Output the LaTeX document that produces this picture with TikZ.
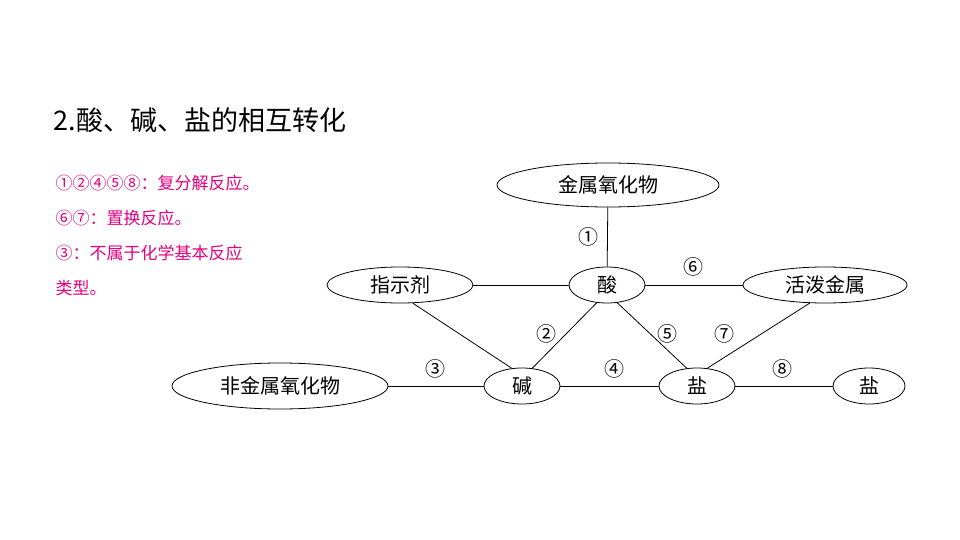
\documentclass[tikz,border=0pt]{standalone}
\usepackage{fontspec}
\setmainfont{Noto Sans CJK SC}
\usetikzlibrary{shapes.geometric}
\definecolor{note}{RGB}{228,0,127}
\tikzset{
  sub/.style={draw, thick, ellipse, inner sep=0pt, minimum height=36pt, font=\fontsize{20}{24}\selectfont},
  num/.style={font=\fontsize{20}{24}\selectfont, inner sep=0pt},
  link/.style={thick}
}
\begin{document}
\begin{tikzpicture}[x=1pt, y=-1pt]
    \useasboundingbox (0,0) rectangle (960,540);

    % Title
    \node[anchor=west, font=\fontsize{27}{32}\selectfont] (title) at (50,120) {2.酸、碱、盐的相互转化};

    % Notes
    \node[anchor=west, note, font=\fontsize{17}{20}\selectfont] (n1) at (52,183) {①②④⑤⑧：复分解反应。};
    \node[anchor=west, note, font=\fontsize{17}{20}\selectfont] (n2) at (52,218) {⑥⑦：置换反应。};
    \node[anchor=west, note, font=\fontsize{17}{20}\selectfont] (n3) at (52,253) {③：不属于化学基本反应};
    \node[anchor=west, note, font=\fontsize{17}{20}\selectfont] (n4) at (52,288) {类型。};

    % Substances
    \node[sub, minimum width=222pt, minimum height=44pt] (mo) at (608,185) {金属氧化物};
    \node[sub, minimum width=146pt] (ind) at (400,285) {指示剂};
    \node[sub, minimum width=76pt] (acid) at (607,285) {酸};
    \node[sub, minimum width=164pt] (met) at (825,285) {活泼金属};
    \node[sub, minimum width=216pt, minimum height=46pt] (nmo) at (280,386) {非金属氧化物};
    \node[sub, minimum width=76pt] (base) at (522,386) {碱};
    \node[sub, minimum width=76pt] (salt) at (697,386) {盐};
    \node[sub, minimum width=72pt] (salt2) at (869,386) {盐};

    % Connectors
    \draw[link] (mo) -- (acid);
    \draw[link] (ind) -- (acid);
    \draw[link] (acid) -- (met);
    \draw[link] (ind.-55) -- (base.120);
    \draw[link] (acid.-120) -- (base.60);
    \draw[link] (acid.-60) -- (salt.120);
    \draw[link] (met.-130) -- (salt.60);
    \draw[link] (nmo) -- (base);
    \draw[link] (base) -- (salt);
    \draw[link] (salt) -- (salt2);

    % Numbers
    \node[num] (c1) at (588,237) {①};
    \node[num] (c6) at (693,267) {⑥};
    \node[num] (c2) at (546,334) {②};
    \node[num] (c5) at (667,334) {⑤};
    \node[num] (c7) at (724,334) {⑦};
    \node[num] (c3) at (435,369) {③};
    \node[num] (c4) at (614,369) {④};
    \node[num] (c8) at (782,369) {⑧};
\end{tikzpicture}
\end{document}
